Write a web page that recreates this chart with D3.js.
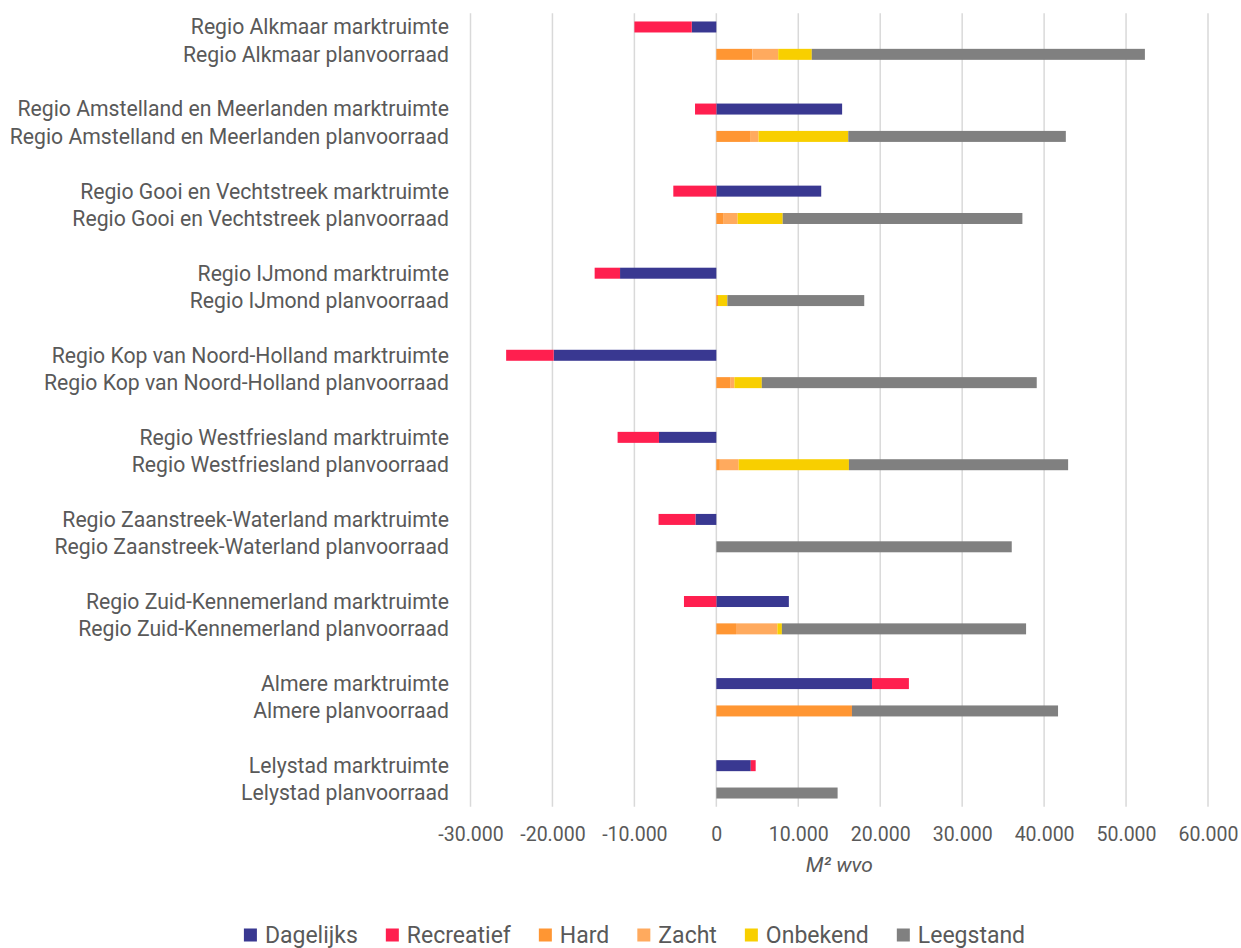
<!DOCTYPE html>
<html>
<head>
<meta charset="utf-8">
<script src="https://cdn.jsdelivr.net/npm/d3@7"></script>
<style>
  html, body { margin: 0; padding: 0; background: #fff; }
  svg { display: block; font-family: Roboto, "Noto Sans", sans-serif; }
</style>
</head>
<body>
<svg id="chart" width="1241" height="948"></svg>
<script>
const categories = [
  "Regio Alkmaar marktruimte", "Regio Alkmaar planvoorraad",
  "Regio Amstelland en Meerlanden marktruimte", "Regio Amstelland en Meerlanden planvoorraad",
  "Regio Gooi en Vechtstreek marktruimte", "Regio Gooi en Vechtstreek planvoorraad",
  "Regio IJmond marktruimte", "Regio IJmond planvoorraad",
  "Regio Kop van Noord-Holland marktruimte", "Regio Kop van Noord-Holland planvoorraad",
  "Regio Westfriesland marktruimte", "Regio Westfriesland planvoorraad",
  "Regio Zaanstreek-Waterland marktruimte", "Regio Zaanstreek-Waterland planvoorraad",
  "Regio Zuid-Kennemerland marktruimte", "Regio Zuid-Kennemerland planvoorraad",
  "Almere marktruimte", "Almere planvoorraad",
  "Lelystad marktruimte", "Lelystad planvoorraad"
];
const seriesNames = ["Dagelijks", "Recreatief", "Hard", "Zacht", "Onbekend", "Leegstand"];
const seriesColors = ["#393891", "#FF1F4F", "#FF9633", "#FFAA5E", "#F8CF00", "#808080"];

const dagelijks  = [-3000, 0, 15350, 0, 12800, 0, -11750, 0, -19850, 0, -7000, 0, -2550, 0, 8850, 0, 19000, 0, 4200, 0];
const recreatief = [-7000, 0, -2600, 0, -5250, 0, -3100, 0, -5800, 0, -5050, 0, -4500, 0, -3950, 0, 4500, 0, 600, 0];
const hard       = [0, 4400, 0, 4200, 0, 900, 0, 200, 0, 1750, 0, 430, 0, 0, 0, 2400, 0, 16550, 0, 0];
const zacht      = [0, 3150, 0, 950, 0, 1700, 0, 0, 0, 450, 0, 2300, 0, 0, 0, 5050, 0, 0, 0, 0];
const onbekend   = [0, 4100, 0, 10950, 0, 5500, 0, 1150, 0, 3350, 0, 13450, 0, 0, 0, 550, 0, 0, 0, 0];
const leegstand  = [0, 40650, 0, 26550, 0, 29250, 0, 16700, 0, 33550, 0, 26750, 0, 36050, 0, 29800, 0, 25150, 0, 14800];

const xTicks = [-30000, -20000, -10000, 0, 10000, 20000, 30000, 40000, 50000, 60000];
const xTitle = "M² wvo";

const seriesValues = [dagelijks, recreatief, hard, zacht, onbekend, leegstand];
const table = categories.map((c, i) => {
  const row = { cat: c, idx: i };
  seriesNames.forEach((s, k) => row[s] = seriesValues[k][i]);
  return row;
});

const svg = d3.select("#chart");
const textColor = "#595959";

const x = d3.scaleLinear().domain([-30000, 60000]).range([470.5, 1208]);
// 20 categories + a blank spacer slot between each pair
const slotCount = categories.length + categories.length / 2 - 1;
const slotOf = i => i + Math.floor(i / 2);
const yCenter = d3.scaleBand().domain(d3.range(slotCount)).range([13.3, 806.7]);

// gridlines
svg.append("g").selectAll("line").data(xTicks).join("line")
  .attr("x1", d => x(d)).attr("x2", d => x(d))
  .attr("y1", 13.3).attr("y2", 806.7)
  .attr("stroke", "#d9d9d9").attr("stroke-width", 1.5);

// bars
const stack = d3.stack().keys(seriesNames).offset(d3.stackOffsetDiverging);
const stacked = stack(table);
const bw = 11;
svg.append("g").selectAll("g").data(stacked).join("g")
  .attr("fill", (d, k) => seriesColors[k])
  .selectAll("rect").data(d => d.filter(p => p[1] - p[0] !== 0)).join("rect")
  .attr("x", p => x(Math.min(p[0], p[1])))
  .attr("width", p => Math.abs(x(p[1]) - x(p[0])))
  .attr("y", p => yCenter(slotOf(p.data.idx)) + yCenter.bandwidth() / 2 - bw / 2)
  .attr("height", bw);

// category labels
svg.append("g").selectAll("text").data(categories).join("text")
  .attr("x", 449)
  .attr("y", (d, i) => yCenter(slotOf(i)) + yCenter.bandwidth() / 2)
  .attr("dy", "0.35em")
  .attr("text-anchor", "end")
  .attr("font-size", 21.2)
  .attr("fill", textColor)
  .text(d => d);

// x axis tick labels
const fmt = v => d3.format(",")(v).replace(/,/g, ".").replace("−", "-");
const xAxis = d3.axisBottom(x).tickValues(xTicks).tickSize(0).tickPadding(0).tickFormat(fmt);
const ax = svg.append("g").attr("transform", "translate(0,820)").call(xAxis);
ax.select(".domain").remove();
ax.selectAll("text").attr("font-size", 19.5).attr("fill", textColor).attr("font-family", "Roboto").attr("dy", "1.1em");

// axis title
svg.append("text")
  .attr("x", (x(-30000) + x(60000)) / 2)
  .attr("y", 872)
  .attr("text-anchor", "middle")
  .attr("font-size", 21)
  .attr("font-style", "italic")
  .attr("fill", textColor)
  .text(xTitle);

// legend
const lg = svg.append("g");
const sq = 13, gapSq = 8, gapItem = 28, fs = 23;
let cx = 0;
seriesNames.forEach((s, k) => {
  const g = lg.append("g").attr("transform", `translate(${cx},0)`);
  g.append("rect").attr("x", 0).attr("y", -sq / 2 - 1).attr("width", sq).attr("height", sq).attr("fill", seriesColors[k]);
  const t = g.append("text").attr("x", sq + gapSq).attr("y", 7)
    .attr("font-size", fs).attr("fill", textColor).text(s);
  const w = t.node().getComputedTextLength();
  cx += sq + gapSq + w + gapItem;
});
const totalW = cx - gapItem;
lg.attr("transform", `translate(${634.5 - totalW / 2},936)`);
</script>
</body>
</html>
